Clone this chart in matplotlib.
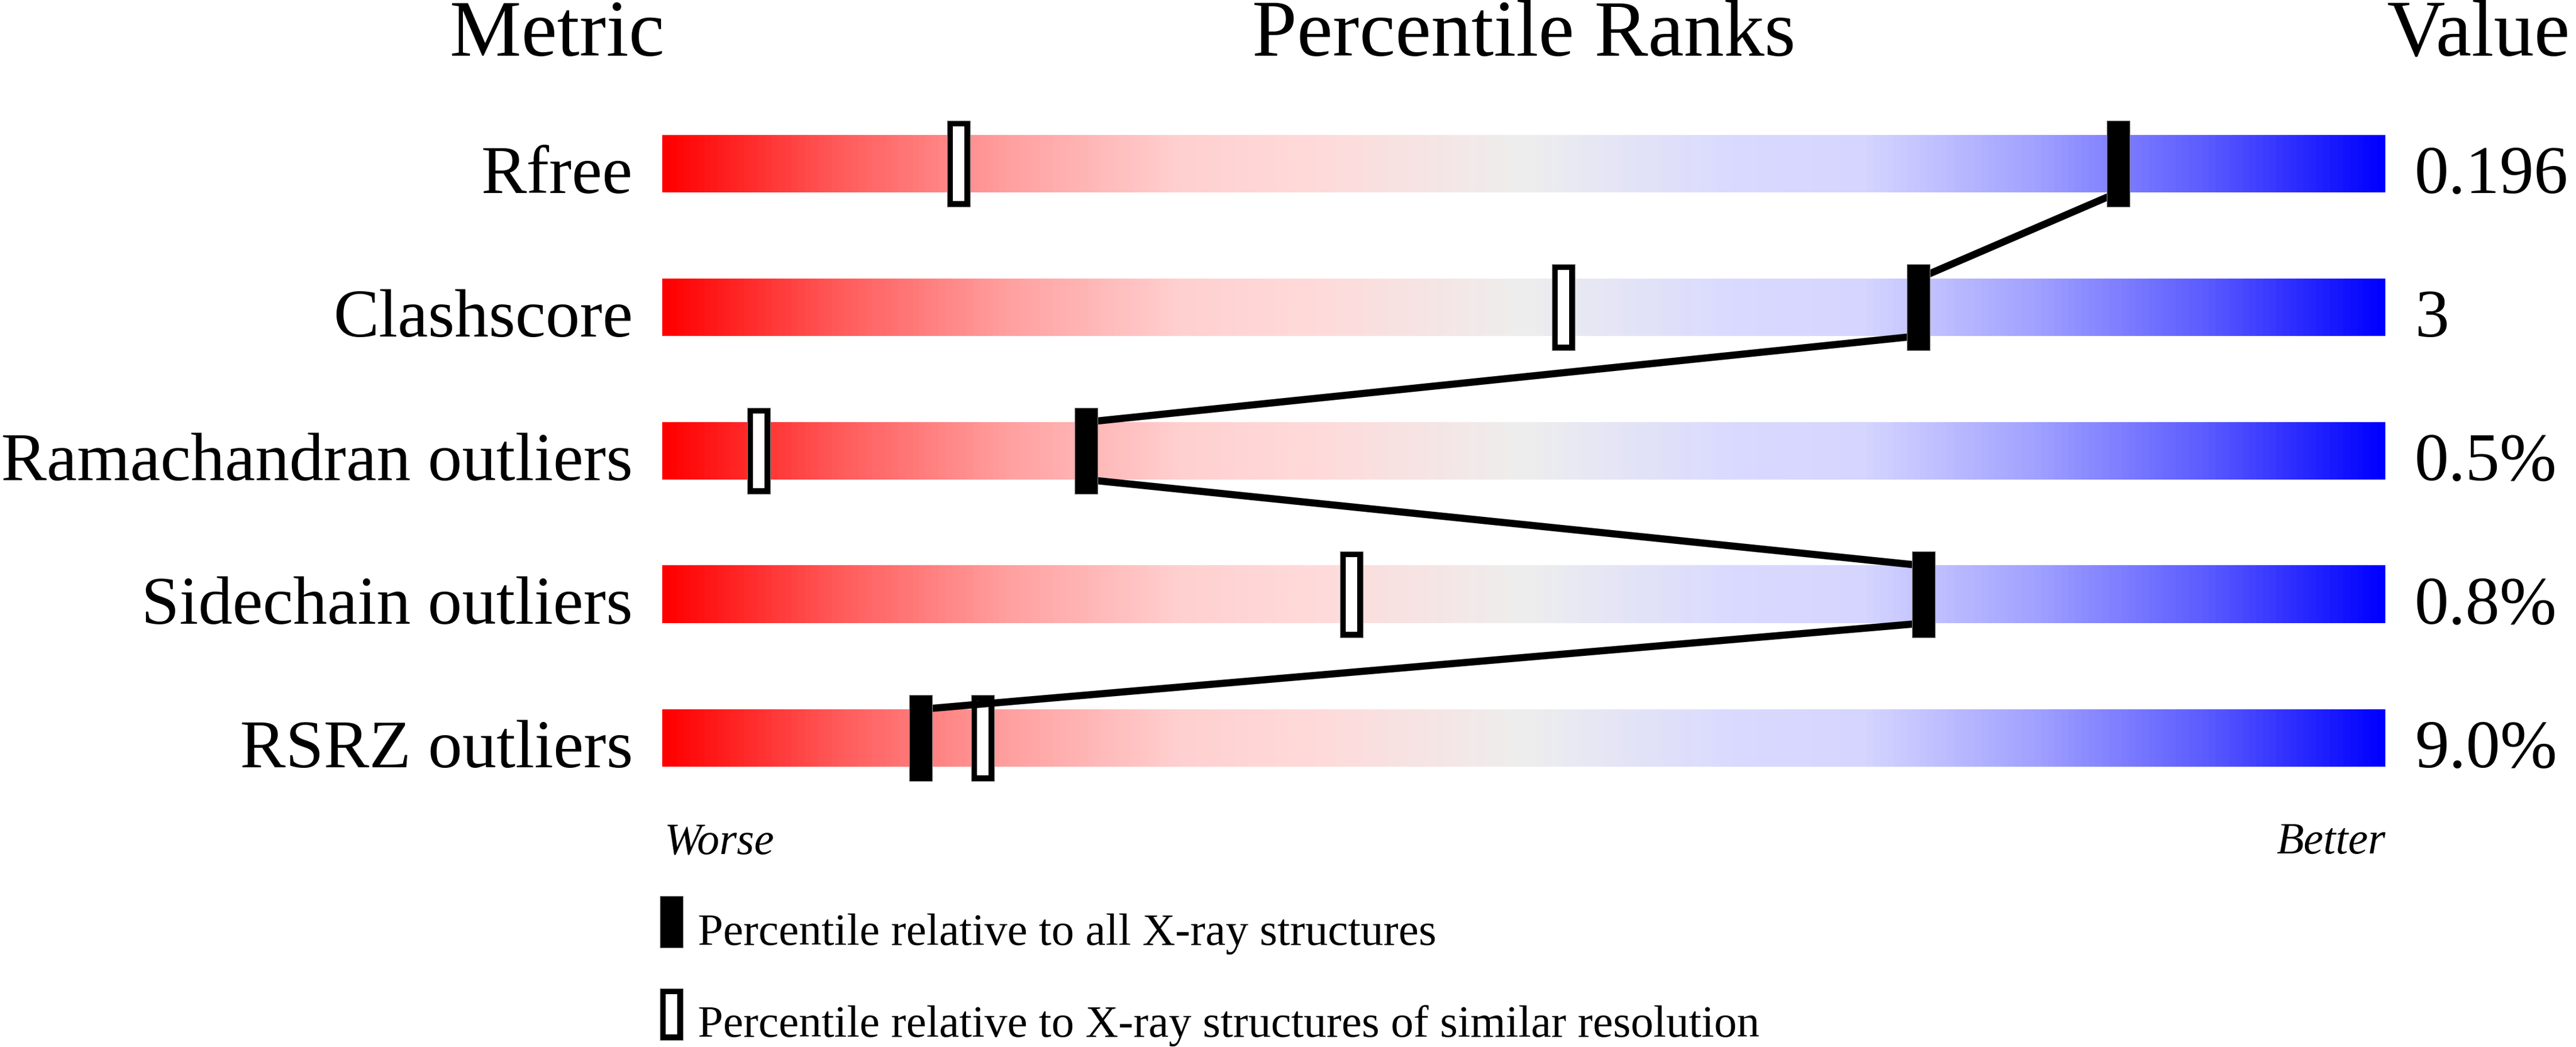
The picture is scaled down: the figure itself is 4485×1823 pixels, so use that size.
import os
import numpy as np
import matplotlib
matplotlib.use('Agg')
import matplotlib.pyplot as plt
from matplotlib.colors import LinearSegmentedColormap
from matplotlib.patches import Rectangle
from matplotlib.font_manager import FontProperties

font_dir = '/usr/share/fonts/truetype/liberation/'
if os.path.exists(font_dir + 'LiberationSerif-Regular.ttf'):
    serif = FontProperties(fname=font_dir + 'LiberationSerif-Regular.ttf')
    serif_it = FontProperties(fname=font_dir + 'LiberationSerif-Italic.ttf')
else:
    serif = FontProperties(family='serif')
    serif_it = FontProperties(family='serif', style='italic')

# data
metrics = ['Rfree', 'Clashscore', 'Ramachandran outliers', 'Sidechain outliers', 'RSRZ outliers']
values = ['0.196', '3', '0.5%', '0.8%', '9.0%']
pct_all = [84.5, 72.9, 24.6, 73.2, 15.0]      # relative to all X-ray structures
pct_similar = [17.2, 52.3, 5.6, 40.0, 18.6]   # relative to similar resolution
legend_labels = ['Percentile relative to all X-ray structures',
                 'Percentile relative to X-ray structures of similar resolution']

# red -> pink -> grey -> lavender -> blue
cmap = LinearSegmentedColormap.from_list('slider', [
    (0.0, '#FF0000'), (0.1, '#FF5A5A'), (0.2, '#FFA0A0'), (0.3, '#FFD0D0'),
    (0.38, '#FFDADA'), (0.5, '#EEEEEE'), (0.62, '#DADAFF'), (0.7, '#D5D5FF'),
    (0.8, '#A0A0FF'), (0.9, '#5A5AFF'), (1.0, '#0000FF')])

fig = plt.figure(figsize=(44.85, 18.24), dpi=100)
ax = fig.add_axes([0, 0, 1, 1])

grad = np.linspace(0, 1, 600).reshape(1, -1)
mw = 40 / 30.0   # marker width in percentile units

for i in range(len(metrics)):
    ax.imshow(grad, extent=[0, 100, i + 0.2, i - 0.2], aspect='auto', cmap=cmap,
              interpolation='bilinear', zorder=1)
    ax.text(-1.7, i + 0.2, metrics[i], ha='right', va='baseline',
            fontproperties=serif, fontsize=85.7)
    ax.text(101.7, i + 0.2, values[i], ha='left', va='baseline',
            fontproperties=serif, fontsize=85.7)

# lines joining the filled markers
for i in range(len(metrics) - 1):
    ax.plot([pct_all[i], pct_all[i + 1]], [i + 0.2, i + 0.8], color='black', lw=9,
            solid_capstyle='butt', zorder=3)

for i in range(len(metrics)):
    p = pct_similar[i]
    ax.add_patch(Rectangle((p - mw / 2, i - 0.3), mw, 0.6, facecolor='black',
                           edgecolor='#888888', lw=0.8, zorder=2))
    ax.add_patch(Rectangle((p - mw / 4, i - 0.26), mw / 2, 0.52, facecolor='white',
                           edgecolor='none', zorder=2))
    p = pct_all[i]
    ax.add_patch(Rectangle((p - mw / 2, i - 0.3), mw, 0.6, facecolor='black',
                           edgecolor='#888888', lw=0.8, zorder=4))

# headers
ax.text(-6.1, -0.756, 'Metric', ha='center', va='baseline', fontproperties=serif, fontsize=101)
ax.text(50, -0.756, 'Percentile Ranks', ha='center', va='baseline', fontproperties=serif, fontsize=101)
ax.text(100.07, -0.756, 'Value', ha='left', va='baseline', fontproperties=serif, fontsize=101)

ax.text(0.13, 4.8, 'Worse', ha='left', va='baseline', fontproperties=serif_it, fontsize=56)
ax.text(100, 4.8, 'Better', ha='right', va='baseline', fontproperties=serif_it, fontsize=56)

# legend
ax.add_patch(Rectangle((0.52 - mw / 2, 5.28 - 0.18), mw, 0.36, facecolor='black',
                       edgecolor='#888888', lw=0.8))
ax.text(2.07, 5.436, legend_labels[0], ha='left', va='baseline', fontproperties=serif, fontsize=57)
ax.add_patch(Rectangle((0.52 - mw / 2, 5.922 - 0.18), mw, 0.36, facecolor='black',
                       edgecolor='#888888', lw=0.8))
ax.add_patch(Rectangle((0.52 - mw / 4, 5.922 - 0.14), mw / 2, 0.28, facecolor='white',
                       edgecolor='none'))
ax.text(2.07, 6.076, legend_labels[1], ha='left', va='baseline', fontproperties=serif, fontsize=57)

ax.set_xlim(-1153 / 30.0, (4485 - 1153) / 30.0)
ax.set_ylim((1824 - 286) / 250.0, -286 / 250.0)
ax.axis('off')

fig.savefig('out.png', dpi=100)
